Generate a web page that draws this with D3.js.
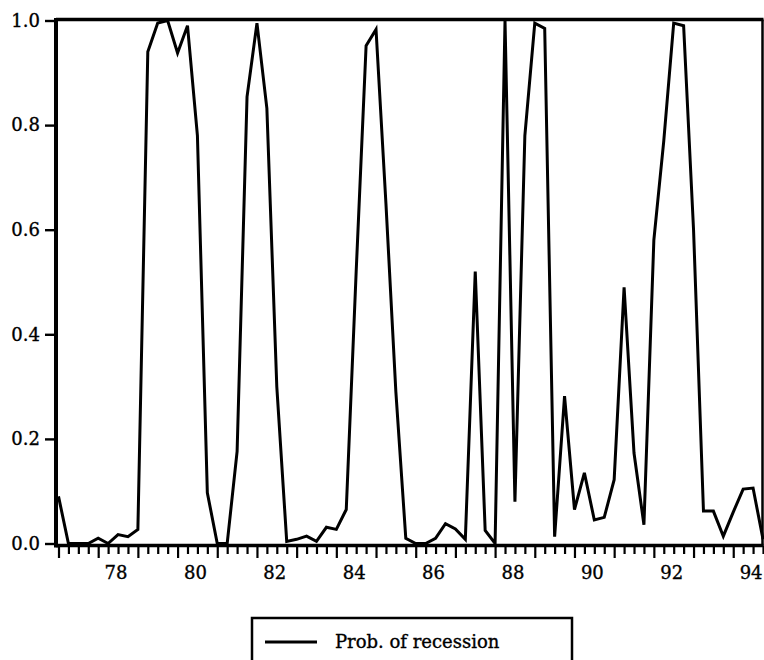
<!DOCTYPE html>
<html>
<head>
<meta charset="utf-8">
<script src="https://cdn.jsdelivr.net/npm/d3@7"></script>
<style>
  html, body { margin: 0; padding: 0; background: #fff; }
  svg { display: block; }
  text { font-family: "DejaVu Serif", serif; fill: #000; stroke: #000; stroke-width: 0.35px; }
</style>
</head>
<body>
<svg id="chart" width="764" height="660"></svg>
<script>
(function () {
// ---- data (quarterly, 1977Q1 .. 1994Q4) ----
const startYear = 1977;
const endYear = 1994;
const quarters = [];
for (let yy = startYear; yy <= endYear; yy++) for (let q = 1; q <= 4; q++) quarters.push(yy + "Q" + q);

const prob = [
  0.09, 0.0, 0.0, 0.0,        // 1977
  0.01, 0.0, 0.017, 0.013,    // 1978
  0.027, 0.94, 0.995, 1.0,    // 1979
  0.938, 0.99, 0.78, 0.097,   // 1980
  0.0, 0.0, 0.176, 0.854,     // 1981
  0.995, 0.832, 0.30, 0.004,  // 1982
  0.008, 0.014, 0.004, 0.031, // 1983
  0.027, 0.065, 0.52, 0.952,  // 1984
  0.983, 0.65, 0.29, 0.01,    // 1985
  0.0, 0.0, 0.01, 0.038,      // 1986
  0.028, 0.008, 0.52, 0.025,  // 1987
  0.0, 1.0, 0.08, 0.78,       // 1988
  0.995, 0.985, 0.013, 0.282, // 1989
  0.065, 0.135, 0.045, 0.05,  // 1990
  0.122, 0.49, 0.173, 0.036,  // 1991
  0.58, 0.77, 0.995, 0.99,    // 1992
  0.60, 0.062, 0.062, 0.014,  // 1993
  0.06, 0.104, 0.106, 0.008   // 1994
];

const yTicks = [0.0, 0.2, 0.4, 0.6, 0.8, 1.0];
const xLabelYears = [1978, 1980, 1982, 1984, 1986, 1988, 1990, 1992, 1994];
const xLabels = ["78", "80", "82", "84", "86", "88", "90", "92", "94"];
const seriesName = "Prob. of recession";

// ---- layout ----
const svg = d3.select("#chart");
const pLeft = 56, pRight = 762.5, pTop = 19.5, pBottom = 545.5;

const x = d3.scaleLinear().domain([0, quarters.length - 1]).range([58.5, 763]);
const y = d3.scaleLinear().domain([0, 1]).range([543.5, 20.5]);

// y axis ticks + labels
const yAxis = svg.append("g")
  .attr("transform", `translate(${pLeft},0)`)
  .call(d3.axisLeft(y).tickValues(yTicks).tickFormat(d3.format(".1f")).tickSize(11).tickPadding(5));
yAxis.select(".domain").remove();
yAxis.selectAll(".tick line").attr("stroke", "#000").attr("stroke-width", 2.4);
yAxis.selectAll(".tick text").style("font-family", "DejaVu Serif").style("font-size", "18px").attr("fill", "#000");

// x minor/major ticks at every quarter
const xTickAxis = svg.append("g")
  .attr("transform", `translate(0,${pBottom})`)
  .call(d3.axisBottom(x).tickValues(d3.range(quarters.length)).tickSize(8.5).tickFormat(""));
xTickAxis.select(".domain").remove();
xTickAxis.selectAll(".tick line")
  .attr("stroke", "#000").attr("stroke-width", 2.2)
  .attr("y2", d => (quarters[d].endsWith("Q1") ? 12.5 : 8.5));

// x labels (placed within each labelled year)
const labelPos = xLabelYears.map(yr => quarters.indexOf(yr + "Q1") + 1.75);
const xLabAxis = svg.append("g")
  .attr("transform", `translate(0,${pBottom})`)
  .call(d3.axisBottom(x).tickValues(labelPos).tickSize(0).tickPadding(21)
    .tickFormat((d, i) => xLabels[i]));
xLabAxis.select(".domain").remove();
xLabAxis.selectAll(".tick text").style("font-family", "DejaVu Serif").style("font-size", "18px").attr("fill", "#000");

// data line
svg.append("path")
  .datum(prob)
  .attr("fill", "none")
  .attr("stroke", "#000")
  .attr("stroke-width", 3)
  .attr("stroke-linejoin", "miter")
  .attr("d", d3.line().x((d, i) => x(i)).y(d => y(d)));

// frame
svg.append("line").attr("x1", pLeft).attr("x2", pRight + 1).attr("y1", pTop).attr("y2", pTop)
  .attr("stroke", "#000").attr("stroke-width", 3.5);
svg.append("line").attr("x1", pRight).attr("x2", pRight).attr("y1", pTop).attr("y2", pBottom)
  .attr("stroke", "#000").attr("stroke-width", 2.5);
svg.append("line").attr("x1", pLeft).attr("x2", pLeft).attr("y1", pTop - 1.5).attr("y2", pBottom + 2)
  .attr("stroke", "#000").attr("stroke-width", 4);
svg.append("line").attr("x1", pLeft).attr("x2", pRight + 1).attr("y1", pBottom).attr("y2", pBottom)
  .attr("stroke", "#000").attr("stroke-width", 3.5);

// legend
const lg = svg.append("g");
lg.append("rect").attr("x", 252).attr("y", 618).attr("width", 320).attr("height", 60)
  .attr("fill", "none").attr("stroke", "#000").attr("stroke-width", 2.5);
lg.append("line").attr("x1", 265).attr("x2", 317).attr("y1", 642).attr("y2", 642)
  .attr("stroke", "#000").attr("stroke-width", 3);
lg.append("text").attr("x", 335).attr("y", 648)
  .style("font-size", "18px").text(seriesName);
})();
</script>
</body>
</html>
